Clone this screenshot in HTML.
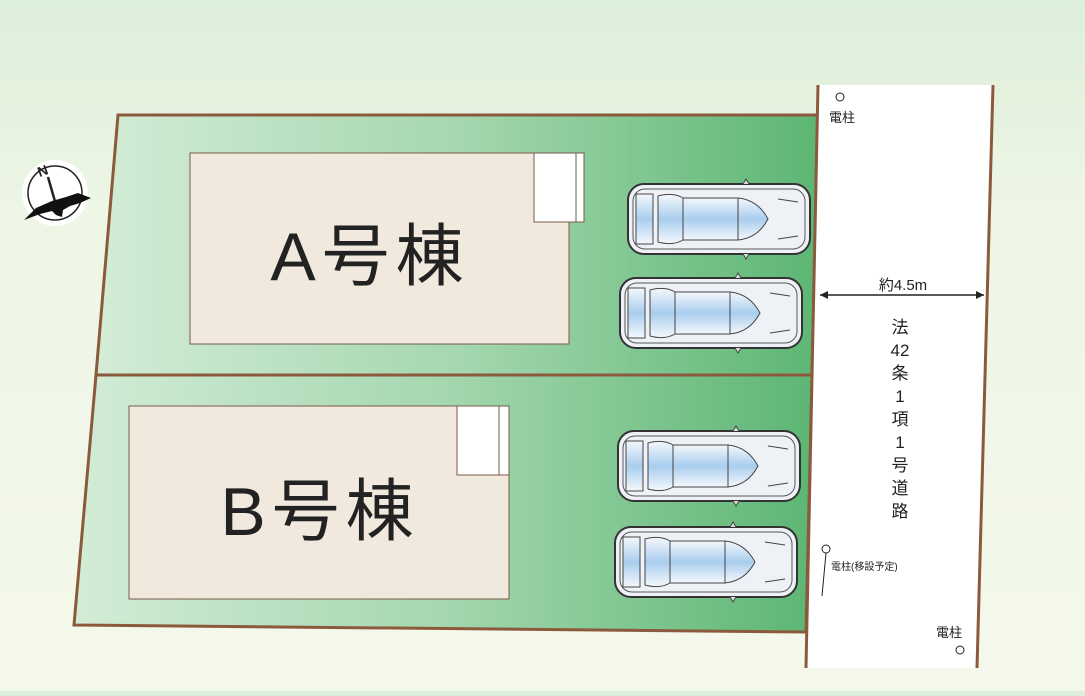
<!DOCTYPE html>
<html><head><meta charset="utf-8"><style>
html,body{margin:0;padding:0}
body{width:1085px;height:691px;overflow:hidden;background:linear-gradient(#dcefdb 0%,#e3f1dd 12%,#eef6e6 30%,#f4f8ea 100%);font-family:"Liberation Sans","Noto Sans CJK JP",sans-serif}
</style></head><body>
<svg width="1085" height="691" viewBox="0 0 1085 691" xmlns="http://www.w3.org/2000/svg">
<defs>
<linearGradient id="g" x1="0" x2="1" y1="0" y2="0">
<stop offset="0" stop-color="#d3ecd6"/><stop offset="0.5" stop-color="#a5d7b0"/><stop offset="1" stop-color="#5db674"/></linearGradient>
<linearGradient id="glass" x1="0" x2="0" y1="0" y2="1">
<stop offset="0" stop-color="#f4f8fc"/><stop offset="0.5" stop-color="#a9cdee"/><stop offset="1" stop-color="#f4f8fc"/></linearGradient>
<g id="car">
<rect x="0" y="0" width="182" height="70" rx="16" fill="#eef2f7" stroke="#333" stroke-width="2"/>
<rect x="5" y="5" width="172" height="60" rx="12" fill="none" stroke="#555" stroke-width="1"/>
<path d="M8 10 L25 10 L25 60 L8 60 Z" fill="url(#glass)" stroke="#444"/>
<path d="M30 12 Q45 8 55 14 L55 56 Q45 62 30 58 Z" fill="url(#glass)" stroke="#444"/>
<rect x="55" y="14" width="55" height="42" fill="url(#glass)" stroke="#444"/>
<path d="M110 14 Q130 16 140 35 Q130 54 110 56 Z" fill="url(#glass)" stroke="#444"/>
<path d="M150 15 L170 18 M150 55 L170 52" stroke="#444"/>
<path d="M115 0 L118 -5 L121 0 M115 70 L118 75 L121 70" fill="#ddd" stroke="#444"/>
</g>
</defs>
<polygon points="118,115 818,115 812,375 96,375" fill="url(#g)" stroke="#8b5a3c" stroke-width="3"/>
<polygon points="96,375 812,375 806,632 74,625" fill="url(#g)" stroke="#8b5a3c" stroke-width="3"/>
<polygon points="818,85 993,85 977,668 806,668" fill="#fff"/>
<line x1="818" y1="85" x2="806" y2="668" stroke="#8b5a3c" stroke-width="3"/>
<line x1="993" y1="85" x2="977" y2="668" stroke="#8b5a3c" stroke-width="3"/>
<rect x="190" y="153" width="379" height="191" fill="#f1e9de" stroke="#7a5a4a"/>
<rect x="534" y="153" width="50" height="69" fill="#fff" stroke="#7a5a4a"/>
<line x1="576" y1="153" x2="576" y2="222" stroke="#7a5a4a"/>
<rect x="129" y="406" width="380" height="193" fill="#f1e9de" stroke="#7a5a4a"/>
<rect x="457" y="406" width="52" height="69" fill="#fff" stroke="#7a5a4a"/>
<line x1="499" y1="406" x2="499" y2="475" stroke="#7a5a4a"/>
<text x="370" y="280" font-size="68" letter-spacing="6" text-anchor="middle" fill="#222">A号棟</text>
<text x="320" y="535" font-size="68" letter-spacing="6" text-anchor="middle" fill="#222">B号棟</text>
<use href="#car" x="628" y="184"/>
<use href="#car" x="620" y="278"/>
<use href="#car" x="618" y="431"/>
<use href="#car" x="615" y="527"/>
<line x1="820" y1="295" x2="984" y2="295" stroke="#222" stroke-width="1.5"/>
<path d="M820 295 l8 -4 v8 z M984 295 l-8 -4 v8 z" fill="#222"/>
<text x="903" y="290" font-size="15" text-anchor="middle" fill="#222">約4.5m</text>
<text font-size="17" text-anchor="middle" fill="#222">
<tspan x="900" y="333">法</tspan><tspan x="900" y="356">42</tspan><tspan x="900" y="379">条</tspan><tspan x="900" y="402">1</tspan><tspan x="900" y="425">項</tspan><tspan x="900" y="448">1</tspan><tspan x="900" y="471">号</tspan><tspan x="900" y="494">道</tspan><tspan x="900" y="517">路</tspan></text>
<circle cx="840" cy="97" r="4" fill="#fff" stroke="#222"/>
<text x="829" y="122" font-size="13" fill="#222">電柱</text>
<circle cx="826" cy="549" r="4" fill="#fff" stroke="#222"/>
<line x1="826" y1="553" x2="822" y2="596" stroke="#222"/>
<text x="831" y="570" font-size="10" fill="#222">電柱(移設予定)</text>
<circle cx="960" cy="650" r="4" fill="#fff" stroke="#222"/>
<text x="936" y="637" font-size="13" fill="#222">電柱</text>
<circle cx="55" cy="193" r="33" fill="#fff"/>
<circle cx="55" cy="193" r="27" fill="none" stroke="#222" stroke-width="1.5"/>
<text x="38" y="176" font-size="14" font-weight="bold" fill="#222" transform="rotate(-20 42 172)">N</text>
<line x1="48" y1="177" x2="56" y2="205" stroke="#222" stroke-width="2.5"/>
<path d="M24 220 L36 208 L52 201 L66 197 L78 193 L91 198 L80 203 L70 206 L63 210 L62 217 L56 215 L52 211 L40 214 Z" fill="#111"/>
</svg>
</body></html>
